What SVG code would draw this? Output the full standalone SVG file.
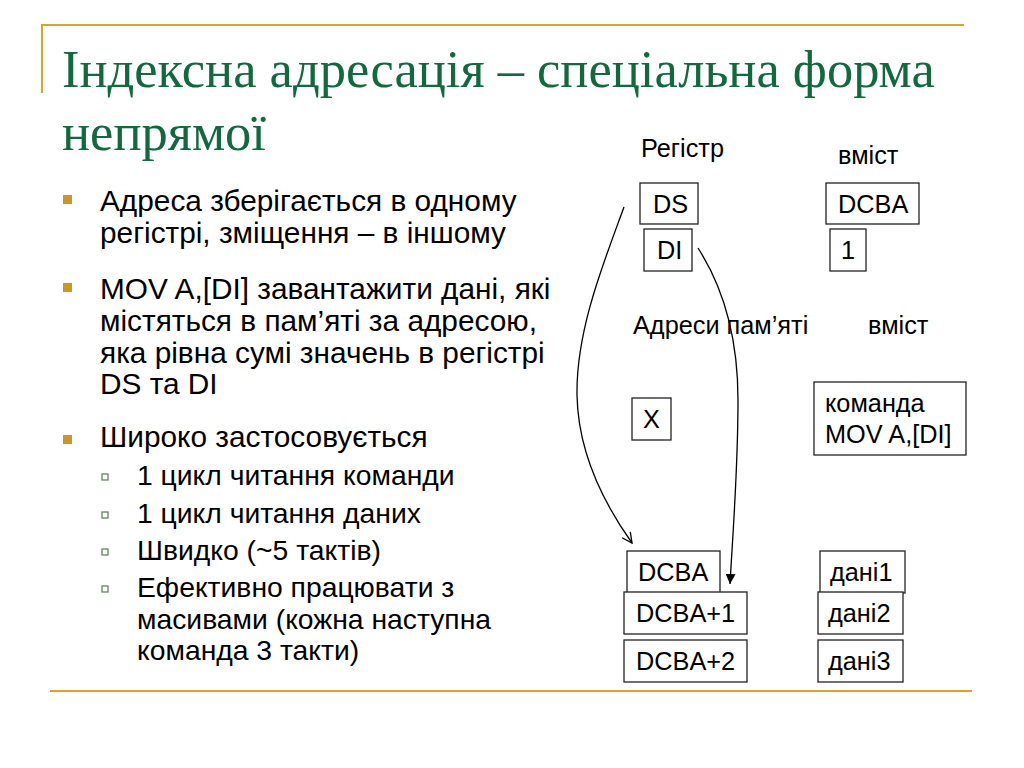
<svg xmlns="http://www.w3.org/2000/svg" width="1024" height="768" viewBox="0 0 1024 768">
  <defs>
    <style>
      .title { font-family: "Liberation Serif", "Times New Roman", serif; font-size: 52.5px; fill: #13693F; }
      .body { font-family: "Liberation Sans", Arial, sans-serif; font-size: 29.8px; fill: #000; }
      .sub { font-family: "Liberation Sans", Arial, sans-serif; font-size: 28.3px; fill: #000; }
      .lbl { font-family: "Liberation Sans", Arial, sans-serif; font-size: 25.3px; fill: #000; }
      .box { fill: #fff; stroke: #222; stroke-width: 1.3; }
      .gold { stroke: #D4A62A; stroke-width: 2; fill: none; }
      .bul { fill: #C99A1E; }
      .subbul { fill: none; stroke: #5A7A55; stroke-width: 1.2; }
      .conn { fill: none; stroke: #000; stroke-width: 1.3; }
    </style>
    <marker id="openHead" viewBox="0 0 12 12" refX="11" refY="6" markerWidth="12" markerHeight="12" markerUnits="userSpaceOnUse" orient="auto">
      <path d="M1,1 L11,6 L1,11" fill="none" stroke="#000" stroke-width="1.3"/>
    </marker>
    <marker id="fillHead" viewBox="0 0 10 10" refX="10" refY="5" markerWidth="10" markerHeight="10" markerUnits="userSpaceOnUse" orient="auto">
      <path d="M0,0 L10,5 L0,10 Z" fill="#000"/>
    </marker>
  </defs>
  <rect width="1024" height="768" fill="#fff"/>

  <!-- decorative lines -->
  <g id="frame">
    <line class="gold" x1="42" y1="25" x2="964" y2="25"/>
    <line class="gold" x1="42" y1="24" x2="42" y2="93"/>
    <line class="gold" x1="50" y1="691" x2="972" y2="691"/>
  </g>

  <!-- title -->
  <g id="title">
    <text class="title" x="62" y="87">Індексна адресація – спеціальна форма</text>
    <text class="title" x="62" y="150">непрямої</text>
  </g>

  <!-- bullet list -->
  <g id="bullets">
    <rect class="bul" x="63" y="195" width="9" height="9"/>
    <text class="body" x="100" y="211">Адреса зберігається в одному</text>
    <text class="body" x="100" y="243">регістрі, зміщення – в іншому</text>

    <rect class="bul" x="63" y="283" width="9" height="9"/>
    <text class="body" x="100" y="299">MOV A,[DI] завантажити дані, які</text>
    <text class="body" x="100" y="331">містяться в пам’яті за адресою,</text>
    <text class="body" x="100" y="363">яка рівна сумі значень в регістрі</text>
    <text class="body" x="100" y="394">DS та DI</text>

    <rect class="bul" x="63" y="435" width="9" height="9"/>
    <text class="body" x="100" y="447">Широко застосовується</text>

    <rect class="subbul" x="102" y="474" width="6" height="6"/>
    <text class="sub" x="137" y="485">1 цикл читання команди</text>
    <rect class="subbul" x="102" y="512" width="6" height="6"/>
    <text class="sub" x="137" y="523">1 цикл читання даних</text>
    <rect class="subbul" x="102" y="549" width="6" height="6"/>
    <text class="sub" x="137" y="560">Швидко (~5 тактів)</text>
    <rect class="subbul" x="102" y="586" width="6" height="6"/>
    <text class="sub" x="137" y="597">Ефективно працювати з</text>
    <text class="sub" x="137" y="629">масивами (кожна наступна</text>
    <text class="sub" x="137" y="660">команда 3 такти)</text>
  </g>

  <!-- column labels -->
  <g id="labels">
    <text class="lbl" x="641" y="157">Регістр</text>
    <text class="lbl" x="838" y="164">вміст</text>
    <text class="lbl" x="633" y="334">Адреси пам’яті</text>
    <text class="lbl" x="868" y="334">вміст</text>
  </g>

  <!-- connectors -->
  <g id="connectors">
    <path class="conn" d="M624,207 C604,262 576,330 577,395 C578,455 605,505 632,543" marker-end="url(#openHead)"/>
    <path class="conn" d="M698,248 C725,290 738,340 738,400 C738,470 733,530 730,584" marker-end="url(#fillHead)"/>
  </g>

  <!-- register nodes -->
  <g id="node-ds">
    <rect class="box" x="640" y="183" width="58" height="41"/>
    <text class="lbl" x="653" y="213">DS</text>
  </g>
  <g id="node-di">
    <rect class="box" x="644" y="229" width="48" height="42"/>
    <text class="lbl" x="657" y="259">DI</text>
  </g>
  <g id="node-dcba-reg">
    <rect class="box" x="826" y="183" width="93" height="41"/>
    <text class="lbl" x="838" y="213">DCBA</text>
  </g>
  <g id="node-one">
    <rect class="box" x="830" y="229" width="36" height="42"/>
    <text class="lbl" x="841" y="259">1</text>
  </g>

  <!-- memory nodes -->
  <g id="node-x">
    <rect class="box" x="632" y="398" width="39" height="42"/>
    <text class="lbl" x="643" y="428">X</text>
  </g>
  <g id="node-cmd">
    <rect class="box" x="814" y="382" width="152" height="73"/>
    <text class="lbl" x="825" y="412">команда</text>
    <text class="lbl" x="825" y="443">MOV A,[DI]</text>
  </g>
  <g id="node-dcba">
    <rect class="box" x="627" y="551" width="93" height="42"/>
    <text class="lbl" x="638" y="581">DCBA</text>
  </g>
  <g id="node-dcba1">
    <rect class="box" x="624" y="592" width="123" height="42"/>
    <text class="lbl" x="636" y="622">DCBA+1</text>
  </g>
  <g id="node-dcba2">
    <rect class="box" x="624" y="640" width="123" height="42"/>
    <text class="lbl" x="636" y="670">DCBA+2</text>
  </g>
  <g id="node-data1">
    <rect class="box" x="820" y="551" width="85" height="42"/>
    <text class="lbl" x="830" y="581">дані1</text>
  </g>
  <g id="node-data2">
    <rect class="box" x="818" y="592" width="85" height="42"/>
    <text class="lbl" x="828" y="622">дані2</text>
  </g>
  <g id="node-data3">
    <rect class="box" x="818" y="640" width="85" height="42"/>
    <text class="lbl" x="828" y="670">дані3</text>
  </g>
</svg>
